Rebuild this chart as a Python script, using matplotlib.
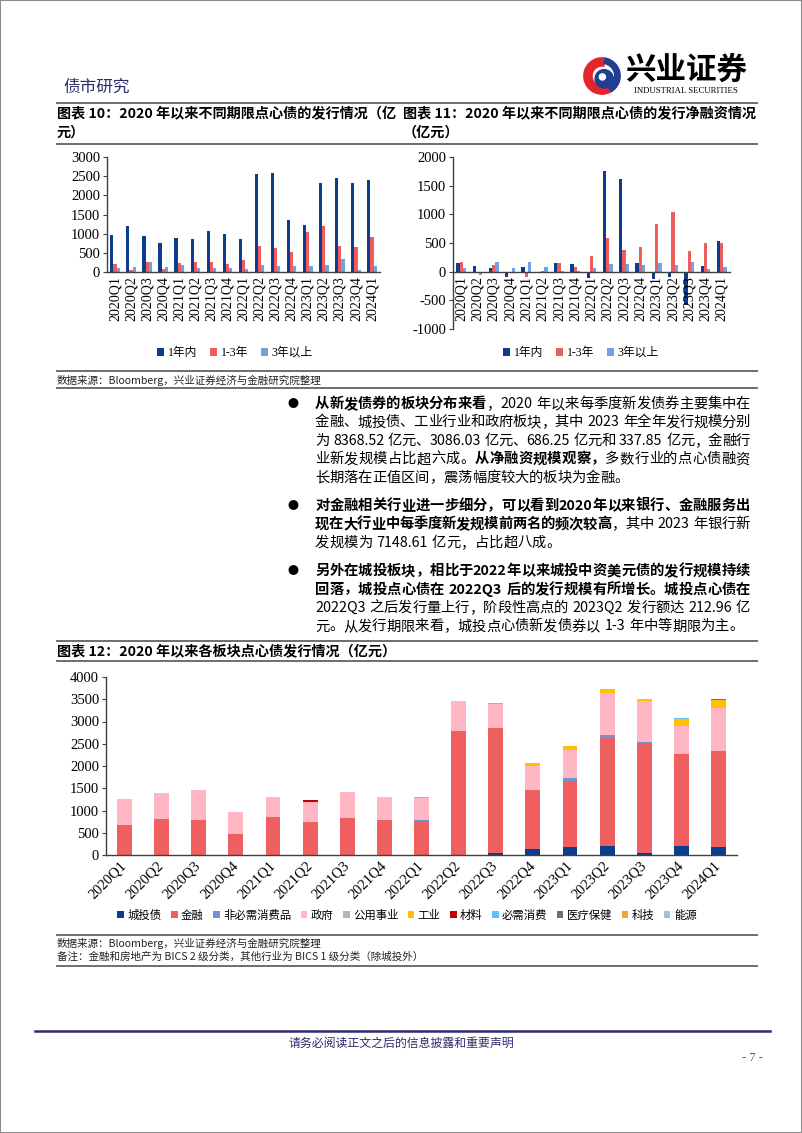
from __future__ import annotations

import re

import matplotlib
import numpy as np

matplotlib.use("Agg")
import matplotlib.pyplot as plt
from matplotlib.lines import Line2D
from matplotlib.patches import Circle, Rectangle, Wedge

plt.rcParams["font.family"] = ["Noto Sans CJK SC", "DejaVu Sans"]
plt.rcParams["axes.unicode_minus"] = False

SERIF = ["Liberation Serif", "Noto Sans CJK SC"]
NAVY = "#2B2B6E"
RULE = "#6E6E6E"

quarters = ["2020Q1", "2020Q2", "2020Q3", "2020Q4", "2021Q1", "2021Q2", "2021Q3", "2021Q4",
            "2022Q1", "2022Q2", "2022Q3", "2022Q4", "2023Q1", "2023Q2", "2023Q3", "2023Q4",
            "2024Q1"]

# 图表10 发行规模（亿元）
term_labels = ["1年内", "1-3年", "3年以上"]
term_colors = ["#0B3D8C", "#EE5D5D", "#6FA3DD"]
issue_1y = [957, 1209, 939, 757, 896, 870, 1061, 983, 870, 2557, 2591, 1365, 1226, 2322, 2461, 2330, 2400]
issue_1_3y = [200, 43, 270, 87, 235, 261, 252, 209, 322, 687, 626, 513, 1043, 1191, 687, 652, 904]
issue_3y = [104, 122, 252, 130, 183, 96, 113, 113, 87, 191, 148, 165, 157, 191, 330, 52, 165]

# 图表11 净融资（亿元）
net_1y = [146, 99, 58, -87, 82, -23, 157, 134, -117, 1749, 1621, 146, -128, -99, -583, 99, 536]
net_1_3y = [169, -29, 117, -20, -87, 17, 157, 82, 268, 595, 373, 426, 828, 1032, 362, 507, 501]
net_3y = [64, -58, 169, 64, 169, 87, 5, 5, 70, 134, 134, 117, 152, 111, 175, 47, 76]

# 图表12 各板块发行（亿元）
sector_names = ["城投债", "金融", "非必需消费品", "政府", "公用事业", "工业", "材料",
                "必需消费", "医疗保健", "科技", "能源"]
sector_colors = ["#0B3D8C", "#EF5F60", "#6E95D2", "#FFB7C5", "#B4B4B4", "#FFC000",
                 "#C00000", "#5BC5F2", "#707070", "#F4A23C", "#9CC3D9"]
s_chengtou = [0, 0, 0, 0, 0, 0, 0, 10, 0, 0, 50, 130, 190, 210, 50, 195, 190]
s_finance = [667, 816, 787, 464, 824, 734, 839, 770, 772, 2790, 2800, 1330, 1475, 2427, 2457, 2075, 2155]
s_discretionary = [0, 0, 0, 0, 30, 0, 0, 0, 10, 0, 0, 0, 60, 60, 38, 0, 0]
s_government = [591, 570, 674, 510, 449, 465, 577, 524, 501, 670, 540, 540, 637, 936, 921, 629, 951]
s_utilities = [0] * 17
s_industrial = [0, 0, 0, 0, 0, 0, 0, 0, 0, 0, 0, 75, 89, 97, 30, 157, 187]
s_materials = [0, 0, 0, 0, 0, 37, 0, 0, 0, 0, 0, 0, 0, 0, 0, 0, 0]
s_staples = [0, 0, 0, 0, 0, 0, 0, 0, 0, 0, 0, 0, 0, 0, 0, 23, 0]
s_health = [0, 0, 0, 0, 0, 0, 0, 0, 0, 0, 0, 0, 0, 0, 0, 0, 23]
s_tech = [0, 0, 0, 0, 0, 0, 0, 0, 15, 0, 20, 0, 0, 0, 0, 0, 0]
s_energy = [0] * 17
sector_values = [s_chengtou, s_finance, s_discretionary, s_government, s_utilities, s_industrial,
                 s_materials, s_staples, s_health, s_tech, s_energy]

para1 = [
    [("从新发债券的板块分布来看", True), ("，2020 年以来每季度新发债券主要集中在", False)],
    [("金融、城投债、工业行业和政府板块，其中 2023 年全年发行规模分别", False)],
    [("为 8368.52 亿元、3086.03 亿元、686.25 亿元和 337.85 亿元，金融行", False)],
    [("业新发规模占比超六成。", False), ("从净融资规模观察，", True), ("多数行业的点心债融资", False)],
    [("长期落在正值区间，震荡幅度较大的板块为金融。", False)],
]
para2 = [
    [("对金融相关行业进一步细分，可以看到2020年以来银行、金融服务出", True)],
    [("现在大行业中每季度新发规模前两名的频次较高", True), ("，其中 2023 年银行新", False)],
    [("发规模为 7148.61 亿元，占比超八成。", False)],
]
para3 = [
    [("另外在城投板块，相比于2022年以来城投中资美元债的发行规模持续", True)],
    [("回落，城投点心债在 2022Q3 后的发行规模有所增长。城投点心债在", True)],
    [("2022Q3 之后发行量上行，阶段性高点的 2023Q2 发行额达 212.96 亿", False)],
    [("元。从发行期限来看，城投点心债新发债券以 1-3 年中等期限为主。", False)],
]

W, H = 802, 1133
fig = plt.figure(figsize=(W / 100, H / 100), dpi=100)
renderer = fig.canvas.get_renderer()


def px_axes(x0, y0, x1, y1):
    return fig.add_axes([x0 / W, 1 - y1 / H, (x1 - x0) / W, (y1 - y0) / H])


def hline(y, x0=57, x1=757, color=RULE, lw=1.4):
    fig.add_artist(Line2D([x0 / W, x1 / W], [1 - y / H, 1 - y / H], color=color, lw=lw))


def put(x, y, s, **kw):
    kw.setdefault("va", "center")
    return fig.text(x / W, 1 - y / H, s, **kw)


def style_axes(ax, xsize=10, ysize=10.5):
    for side in ("top", "right"):
        ax.spines[side].set_visible(False)
    for side in ("left", "bottom"):
        ax.spines[side].set_color("#404040")
        ax.spines[side].set_linewidth(1.0)
    ax.tick_params(axis="x", length=0, pad=3)
    ax.tick_params(axis="y", length=3, width=0.8, direction="out", pad=2, color="#404040")
    for lbl in ax.get_xticklabels():
        lbl.set_fontfamily(SERIF)
        lbl.set_fontsize(xsize)
    for lbl in ax.get_yticklabels():
        lbl.set_fontfamily(SERIF)
        lbl.set_fontsize(ysize)


def draw_line(y, segments, x0=315, x1=750, justify=True, size=10.3):
    items = []
    space = size * 100 / 72 * 0.3
    for text, bold in segments:
        for tok in re.findall(r"[A-Za-z0-9.\-]+| |.", text):
            if tok == " ":
                items.append((None, space))
                continue
            t = put(0, y, tok, fontsize=size, weight="bold" if bold else "normal", ha="left")
            items.append((t, t.get_window_extent(renderer).width))
    total = sum(w for _, w in items)
    gap = (x1 - x0 - total) / (len(items) - 1) if justify else 0.0
    x = x0
    for t, w in items:
        if t is not None:
            t.set_x(x / W)
        x += w + gap


def term_legend(ax, cx, cy):
    ax.legend(loc="center", bbox_to_anchor=(cx / W, 1 - cy / H), bbox_transform=fig.transFigure,
              ncol=3, frameon=False, prop={"family": SERIF, "size": 8.5}, handlelength=0.6,
              handleheight=0.6, handletextpad=0.3, columnspacing=1.1)


# page frame and header
fig.add_artist(Rectangle((0, 0), 1, 1, transform=fig.transFigure, fill=False,
                         edgecolor="#8C8C8C", lw=1.5))
put(63, 87, "债市研究", fontsize=12, color=NAVY)

logo = px_axes(582, 53, 622, 99)
logo.set_xlim(-1.1, 1.1)
logo.set_ylim(-1.1, 1.1)
logo.set_aspect("equal")
logo.axis("off")
logo.add_patch(Wedge((0, 0), 1.0, 80, 300, width=0.45, color="#E3262B"))
logo.add_patch(Wedge((0, 0), 1.0, -60, 80, width=0.3, color="#1F3F93"))
logo.add_patch(Circle((0.12, -0.15), 0.5, color="#1F3F93"))
logo.add_patch(Circle((0.02, -0.05), 0.17, color="white"))
put(686, 70, "兴业证券", fontsize=22, weight="bold", ha="center")
put(686, 91, "INDUSTRIAL SECURITIES", fontsize=6.3, family="Liberation Serif", ha="center")

hline(103)
put(57, 113, "图表 10：2020 年以来不同期限点心债的发行情况（亿", fontsize=10.2, weight="bold")
put(57, 133, "元）", fontsize=10.2, weight="bold")
put(403, 113, "图表 11：2020 年以来不同期限点心债的发行净融资情况", fontsize=10.2, weight="bold")
put(403, 133, "（亿元）", fontsize=10.2, weight="bold")
hline(144)

x = np.arange(len(quarters))
bw = 0.2

# 图表10
ax1 = px_axes(107, 157, 380, 272)
for off, vals, col, lab in zip((-bw, 0, bw), (issue_1y, issue_1_3y, issue_3y), term_colors, term_labels):
    ax1.bar(x + off, vals, bw, color=col, label=lab)
ax1.set_xlim(-0.5, 16.5)
ax1.set_ylim(0, 3000)
ax1.set_yticks(range(0, 3001, 500))
ax1.set_xticks(x, quarters, rotation=90)
style_axes(ax1)
term_legend(ax1, 235, 353)

# 图表11
ax2 = px_axes(453, 157, 730, 329)
for off, vals, col, lab in zip((-bw, 0, bw), (net_1y, net_1_3y, net_3y), term_colors, term_labels):
    ax2.bar(x + off, vals, bw, color=col, label=lab)
ax2.spines["bottom"].set_position(("data", 0))
ax2.set_xlim(-0.5, 16.5)
ax2.set_ylim(-1000, 2000)
ax2.set_yticks(range(-1000, 2001, 500))
ax2.set_xticks(x, quarters, rotation=90)
style_axes(ax2)
term_legend(ax2, 581, 353)

hline(371)
put(57, 380, "数据来源：Bloomberg，兴业证券经济与金融研究院整理", fontsize=7.6, color="#222222")
hline(388)

# body text
LINE = 18.4
PARA = 28.4
y = 404
for para in (para1, para2, para3):
    put(287, y, "●", fontsize=8, ha="left")
    for i, segs in enumerate(para):
        draw_line(y, segs, justify=i < len(para) - 1)
        if i < len(para) - 1:
            y += LINE
    y += PARA

# 图表12
hline(641)
put(57, 651, "图表 12：2020 年以来各板块点心债发行情况（亿元）", fontsize=10.2, weight="bold")
hline(661)

ax3 = px_axes(106, 677, 737, 855)
bottom = np.zeros(len(quarters))
for name, vals, col in zip(sector_names, sector_values, sector_colors):
    ax3.bar(x, vals, 0.4, bottom=bottom, color=col, label=name)
    bottom += np.array(vals)
ax3.set_xlim(-0.5, 16.5)
ax3.set_ylim(0, 4000)
ax3.set_yticks(range(0, 4001, 500))
ax3.set_xticks(x, quarters)
style_axes(ax3, xsize=10.5, ysize=10.5)
ax3.tick_params(axis="x", pad=6)
for lbl in ax3.get_xticklabels():
    lbl.set_rotation(45)
    lbl.set_ha("right")
    lbl.set_va("center")
    lbl.set_rotation_mode("anchor")
ax3.legend(loc="center", bbox_to_anchor=(407 / W, 1 - 915 / H), bbox_transform=fig.transFigure,
           ncol=11, frameon=False, prop={"size": 8.2}, handlelength=0.6, handleheight=0.6,
           handletextpad=0.3, columnspacing=0.8)

hline(935)
put(57, 943, "数据来源：Bloomberg，兴业证券经济与金融研究院整理", fontsize=7.6, color="#222222")
put(57, 957, "备注：金融和房地产为 BICS 2 级分类，其他行业为 BICS 1 级分类（除城投外）", fontsize=7.6,
    color="#222222")
hline(966)

# footer
hline(1031, x0=35, x1=770, color=NAVY, lw=1.8)
put(401, 1043, "请务必阅读正文之后的信息披露和重要声明", fontsize=8.6, color=NAVY, ha="center")
put(752, 1058, "- 7 -", fontsize=9, family="Liberation Serif", color="#555555", ha="center")

fig.savefig("out.png", dpi=100)
